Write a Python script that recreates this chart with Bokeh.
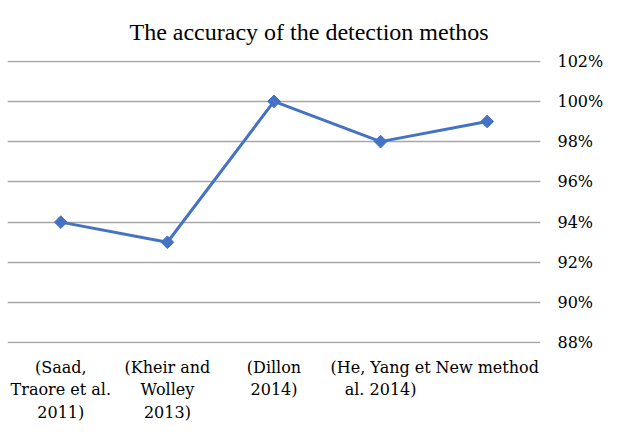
from bokeh.plotting import figure
from bokeh.models import FactorRange, Range1d, FixedTicker, PrintfTickFormatter
from bokeh.embed import file_html
from bokeh.resources import INLINE

categories = ["(Saad,\nTraore et al.\n2011)", "(Kheir and\nWolley\n2013)", "(Dillon\n2014)",
              "(He, Yang et\nal. 2014)", "New method"]
accuracy = [94, 93, 100, 98, 99]
y_ticks = [88, 90, 92, 94, 96, 98, 100, 102]

TITLE_FONT = "Liberation Serif"
AXIS_FONT = "DejaVu Serif"

p = figure(width=606, height=425, x_range=FactorRange(*categories), y_range=Range1d(87.97, 102.03),
           output_backend="svg", toolbar_location=None, y_axis_location="right",
           min_border_left=7, min_border_right=0, min_border_top=0, min_border_bottom=0)
p.title.text = "The accuracy of the detection methos"
p.title.text_font = TITLE_FONT
p.title.text_font_size = "24px"
p.title.text_font_style = "normal"
p.title.text_color = "#000000"
p.title.align = "left"
p.title.offset = 122
p.title.standoff = 32

p.line(categories, accuracy, line_color="#4472C4", line_width=3)
p.scatter(categories, accuracy, marker="square", size=9, angle=0.785398, color="#4472C4")

p.outline_line_color = None
p.xgrid.grid_line_color = None
p.ygrid.grid_line_color = "#a6a6a6"
p.ygrid.grid_line_width = 1.5
p.yaxis.ticker = FixedTicker(ticks=y_ticks)
p.yaxis.formatter = PrintfTickFormatter(format="%d%%")
for ax in (p.xaxis[0], p.yaxis[0]):
    ax.axis_line_color = None
    ax.major_tick_line_color = None
    ax.minor_tick_line_color = None
    ax.major_tick_out = 0
    ax.major_tick_in = 0
    ax.minor_tick_out = 0
    ax.minor_tick_in = 0
    ax.major_label_text_font = AXIS_FONT
    ax.major_label_text_font_size = "16px"
    ax.major_label_text_color = "#000000"
p.yaxis.major_label_standoff = 17
p.xaxis.major_label_standoff = 14
p.x_range.range_padding = 0

open("out.html", "w").write(file_html(p, INLINE))
